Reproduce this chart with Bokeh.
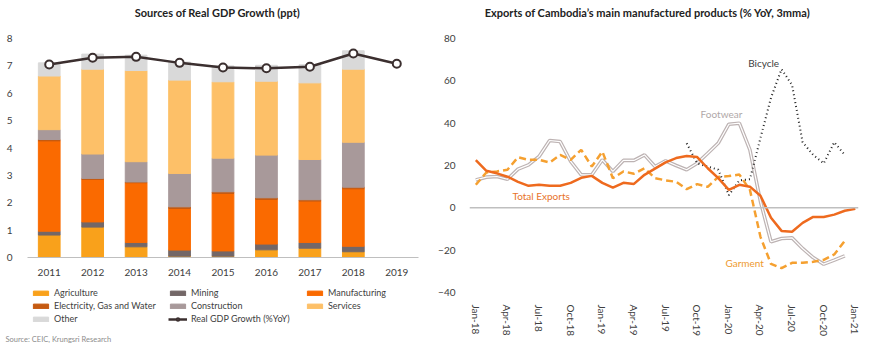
import numpy as np
from bokeh.plotting import figure
from bokeh.models import (Range1d, FactorRange, Legend, LegendItem, Label, Span,
                          FixedTicker, ColumnDataSource)
from bokeh.layouts import row, column
from bokeh.embed import file_html
from bokeh.resources import INLINE

FONT = "Lato"
TXT = "#404040"

# ---------------- Left chart data ----------------
years = ["2011", "2012", "2013", "2014", "2015", "2016", "2017", "2018"]
line_years = years + ["2019"]
agriculture = [0.82, 1.11, 0.39, 0.05, 0.05, 0.28, 0.34, 0.21]
mining = [0.14, 0.19, 0.16, 0.22, 0.19, 0.21, 0.21, 0.20]
manufacturing = [3.30, 1.55, 2.18, 1.52, 2.10, 1.63, 1.51, 2.10]
electricity = [0.05, 0.04, 0.03, 0.06, 0.06, 0.06, 0.05, 0.06]
construction = [0.36, 0.89, 0.74, 1.22, 1.23, 1.56, 1.47, 1.64]
services = [1.96, 3.10, 3.33, 3.41, 2.79, 2.70, 2.80, 2.67]
other = [0.48, 0.55, 0.56, 0.66, 0.58, 0.58, 0.66, 0.67]
real_gdp = [7.05, 7.30, 7.33, 7.11, 6.94, 6.91, 6.97, 7.45, 7.08]
y_ticks_left = [0, 1, 2, 3, 4, 5, 6, 7, 8]

stack_names = ["Agriculture", "Mining", "Manufacturing", "Electricity, Gas and Water",
               "Construction", "Services", "Other"]
stack_keys = ["agri", "mining", "manuf", "elec", "constr", "serv", "other"]
stack_colors = ["#F9A11B", "#736767", "#FA6A00", "#C55A11", "#A8999A", "#FDC068", "#D9D9D9"]
line_color = "#3B2F2F"


def blank_fig(height):
    f = figure(x_range=Range1d(0, 1), y_range=Range1d(0, 1), width=435, height=height,
               output_backend="svg", toolbar_location=None, x_axis_location=None,
               y_axis_location=None, min_border_left=0, min_border_right=0,
               min_border_top=0, min_border_bottom=0)
    f.outline_line_color = None
    f.xgrid.grid_line_color = None
    f.ygrid.grid_line_color = None
    return f


def header(text, cx):
    h = blank_fig(24)
    h.add_layout(Label(x=cx, y=12, x_units="screen", y_units="screen", text=text,
                       text_font=FONT, text_font_size="11px", text_font_style="bold",
                       text_color="#222222", text_align="center", text_baseline="middle"))
    return h


src = ColumnDataSource(dict(year=years, agri=agriculture, mining=mining, manuf=manufacturing,
                            elec=electricity, constr=construction, serv=services, other=other))

p1 = figure(x_range=FactorRange(*line_years), y_range=Range1d(0, 8), width=435, height=256,
            output_backend="svg", toolbar_location=None, title_location=None,
            min_border_left=27, min_border_right=17, min_border_top=14, min_border_bottom=23)
p1.outline_line_color = None
p1.xgrid.grid_line_color = None
p1.ygrid.grid_line_color = None

p1.vbar_stack(stack_keys, x="year", width=0.5, color=stack_colors, source=src)
p1.line(x=line_years, y=real_gdp, line_color=line_color, line_width=2.5)
p1.scatter(x=line_years, y=real_gdp, size=8, fill_color="white", line_color=line_color,
           line_width=2)

p1.yaxis.ticker = FixedTicker(ticks=y_ticks_left)
p1.yaxis.axis_line_color = None
p1.yaxis.major_tick_line_color = None
p1.yaxis.minor_tick_line_color = None
p1.yaxis.major_label_standoff = 9
p1.xaxis.axis_line_color = "#BFBFBF"
p1.xaxis.major_tick_line_color = None
p1.xaxis.major_label_standoff = 5
for ax in (p1.xaxis, p1.yaxis):
    ax.major_label_text_font = FONT
    ax.major_label_text_font_size = "10px"
    ax.major_label_text_color = TXT

h1 = header("Sources of Real GDP Growth (ppt)", 217)

# Legend panel (separate figure under the left chart; its glyphs sit outside the view)
pl = blank_fig(70)
hidden = ColumnDataSource(dict(x=[-10], y=[-10]))
items_all = []
for name, col in zip(stack_names, stack_colors):
    r = pl.rect(x="x", y="y", width=1, height=1, color=col, source=hidden)
    items_all.append(LegendItem(label=name, renderers=[r]))
rl = pl.line(x="x", y="y", line_color=line_color, line_width=2.5, source=hidden)
rs = pl.scatter(x="x", y="y", size=8, fill_color="white", line_color=line_color,
                line_width=2, source=hidden)
items_all.append(LegendItem(label="Real GDP Growth (%YoY)", renderers=[rl, rs]))
order = [0, 3, 6, 1, 4, 7, 2, 5]
legend = Legend(items=[items_all[i] for i in order], location=(31, 26), ncols=3,
                glyph_width=19, glyph_height=6, label_height=10, label_width=112,
                spacing=2, padding=0, margin=0, label_standoff=4,
                label_text_font=FONT, label_text_font_size="9px", label_text_color=TXT,
                border_line_color=None, background_fill_alpha=0)
pl.add_layout(legend, "center")
pl.add_layout(Label(x=5, y=11, x_units="screen", y_units="screen",
                    text="Source: CEIC, Krungsri Research", text_font=FONT,
                    text_font_size="7.5px", text_color="#8C8C8C", text_baseline="middle"))

# ---------------- Right chart data ----------------
months = ["Jan-18", "Feb-18", "Mar-18", "Apr-18", "May-18", "Jun-18", "Jul-18", "Aug-18",
          "Sep-18", "Oct-18", "Nov-18", "Dec-18", "Jan-19", "Feb-19", "Mar-19", "Apr-19",
          "May-19", "Jun-19", "Jul-19", "Aug-19", "Sep-19", "Oct-19", "Nov-19", "Dec-19",
          "Jan-20", "Feb-20", "Mar-20", "Apr-20", "May-20", "Jun-20", "Jul-20", "Aug-20",
          "Sep-20", "Oct-20", "Nov-20", "Dec-20", "Jan-21"]
tick_labels = ["Jan-18", "Apr-18", "Jul-18", "Oct-18", "Jan-19", "Apr-19", "Jul-19",
               "Oct-19", "Jan-20", "Apr-20", "Jul-20", "Oct-20", "Jan-21"]
total_exports = [22.5, 17.5, 16.3, 14.7, 12.3, 10.4, 10.9, 10.4, 10.4, 11.8, 14.2, 15.1,
                 11.8, 9.5, 11.8, 11.3, 15.6, 18.5, 21.5, 23.5, 24.5, 24.0, 18.7, 14.0,
                 8.5, 10.9, 10.0, 5.7, -4.7, -10.9, -11.3, -7.1, -4.3, -4.3, -3.2, -1.4, -0.5]
footwear = [13.2, 14.5, 14.8, 13.5, 18.3, 20.3, 24.3, 31.8, 31.3, 21.9, 15.6, 15.6,
            22.7, 17.2, 22.4, 22.4, 25.0, 19.5, 22.2, 20.0, 18.0, 21.1, 25.8, 30.6,
            39.5, 40.0, 27.4, 3.0, -16.0, -14.5, -14.2, -19.2, -23.5, -26.6, -24.7, -22.7, None]
garment = [10.9, 16.7, 17.2, 18.0, 23.9, 22.7, 22.7, 21.4, 25.0, 22.7, 27.4, 19.5,
           26.6, 14.0, 17.2, 16.1, 18.7, 14.0, 13.0, 12.3, 8.8, 11.2, 9.9, 14.6,
           15.0, 15.7, 8.5, -13.7, -26.5, -28.5, -26.0, -26.0, -25.5, -24.6, -22.0, -15.6, None]
bicycle = [None] * 20 + [30.5, 21.0, 19.5, 18.0, 6.0, 13.0, 13.5, 33.0, 52.0, 65.5, 58.0,
                         31.0, 25.0, 21.0, 31.0, 25.0, None]
y_ticks_right = [-40, -20, 0, 20, 40, 60, 80]


def arr(v):
    return np.array([np.nan if a is None else a for a in v], dtype=float)


x_idx = list(range(len(months)))
tick_pos = [months.index(t) for t in tick_labels]

p2 = figure(x_range=Range1d(-0.6, 36.3), y_range=Range1d(-40, 80), width=435, height=326,
            output_backend="svg", toolbar_location=None, title_location=None,
            min_border_left=34, min_border_right=12, min_border_top=14, min_border_bottom=58)
p2.outline_line_color = None
p2.xgrid.grid_line_color = None
p2.ygrid.grid_line_color = None

p2.add_layout(Span(location=0, dimension="width", line_color="#BFBFBF", line_width=1.5))
p2.line(x=x_idx, y=arr(footwear), line_color="#BDB3B3", line_width=3.6)
p2.line(x=x_idx, y=arr(footwear), line_color="white", line_width=1.2)
p2.line(x=x_idx, y=arr(garment), line_color="#F5A030", line_width=2.5, line_dash="7 4")
p2.line(x=x_idx, y=arr(bicycle), line_color="#222222", line_width=2, line_dash="1 3")
p2.line(x=x_idx, y=arr(total_exports), line_color="#EE6A1E", line_width=2.5)

p2.yaxis.ticker = FixedTicker(ticks=y_ticks_right)
p2.yaxis.axis_line_color = None
p2.yaxis.major_tick_line_color = None
p2.yaxis.minor_tick_line_color = None
p2.yaxis.major_label_standoff = 8
p2.xaxis.ticker = FixedTicker(ticks=tick_pos)
p2.xaxis.major_label_overrides = {pos: lab for pos, lab in zip(tick_pos, tick_labels)}
p2.xaxis.axis_line_color = None
p2.xaxis.major_tick_line_color = None
p2.xaxis.minor_tick_line_color = None
p2.xaxis.major_label_orientation = "vertical"
p2.xaxis.major_label_standoff = 6
for ax in (p2.xaxis, p2.yaxis):
    ax.major_label_text_font = FONT
    ax.major_label_text_font_size = "10px"
    ax.major_label_text_color = TXT

lab_kw = dict(text_font=FONT, text_font_size="10px", text_align="center",
              text_baseline="middle")
p2.add_layout(Label(x=27.3, y=68.6, text="Bicycle", text_color="#404040", **lab_kw))
p2.add_layout(Label(x=23.3, y=44.4, text="Footwear", text_color="#B0A8A8", **lab_kw))
p2.add_layout(Label(x=6.2, y=5.7, text="Total Exports", text_color="#E8732A", **lab_kw))
p2.add_layout(Label(x=25.5, y=-26.0, text="Garment", text_color="#EE9A30", **lab_kw))

h2 = header("Exports of Cambodia\u2019s main manufactured products (% YoY, 3mma)", 212)

layout = row(column(row(h1), p1, row(pl)), column(row(h2), p2))
open("out.html", "w").write(file_html(layout, INLINE))
